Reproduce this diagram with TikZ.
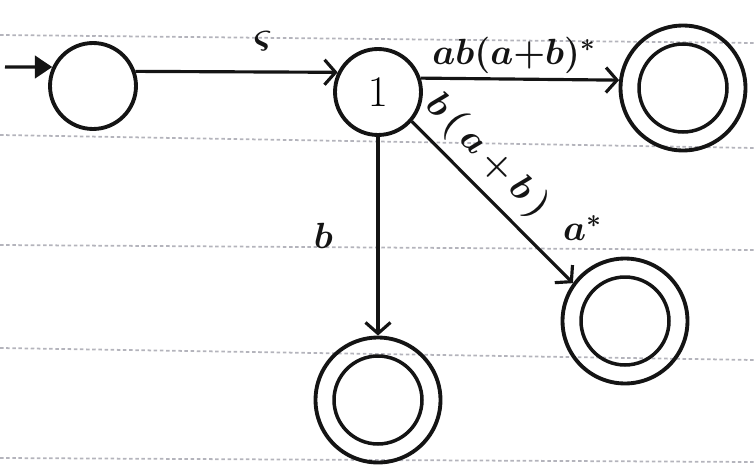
\documentclass[tikz,border=0pt]{standalone}
\usepackage{amsmath,amssymb}
\usepackage{tikz}
\usetikzlibrary{arrows.meta,positioning}
\definecolor{ink}{HTML}{141414}
\definecolor{ruling}{HTML}{B4B4BC}

\begin{document}
\begin{tikzpicture}[x=0.02cm,y=-0.02cm,>={Straight Barb[length=2.2mm,width=5mm]},
  state/.style={circle,draw=ink,line width=2.2pt,minimum size=1.72cm,inner sep=0pt,font=\Huge},
  final/.style={state,minimum size=2.5cm,path picture={\draw[ink,line width=2pt] (path picture bounding box.center) circle[radius=0.88cm];}},
  trans/.style={->,ink,line width=1.8pt},
  lab/.style={font=\huge\boldmath,inner sep=2pt}]
  \useasboundingbox (0,0) rectangle (754,466);
  % ruled paper
  \foreach \ya/\yb in {35/43,135/148,245/250,348/360,458/462}
    \draw[ruling,line width=1pt,dash pattern=on 2pt off 1.5pt] (0,\ya) -- (754,\yb);

  \node[state] (s0) at (93,86) {};
  \node[state] (s1) at (378,92) {$1$};
  \node[final] (f1) at (683,88) {};
  \node[final] (f2) at (625,321) {};
  \node[final] (f3) at (378,400) {};

  \coordinate (init) at (5,67);
  \draw[ink,line width=1.8pt,-{Triangle[length=3.5mm,width=4.5mm]}] (init) -- (s0.155);
  \draw[trans] (s0.19) -- node[lab,pos=0.63,above=9pt] {$\varsigma$} (s1.154);
  \draw[trans] (s1.18) -- node[lab,pos=0.47,above] {$ab(a{+}b)^*$} (f1.173);
  \draw[trans] (s1.-41) -- node[lab,pos=0.34,sloped,above=3pt] {$b\,(\,a\,{+}\,b\,)$}
    node[lab,pos=0.74,above right=2pt,xshift=14pt,yshift=-4pt] {$a^*$} (f2.144);
  \draw[trans] (s1.south) -- node[lab,midway,left=0.8cm] {$b$} (f3.north);
\end{tikzpicture}
\end{document}
